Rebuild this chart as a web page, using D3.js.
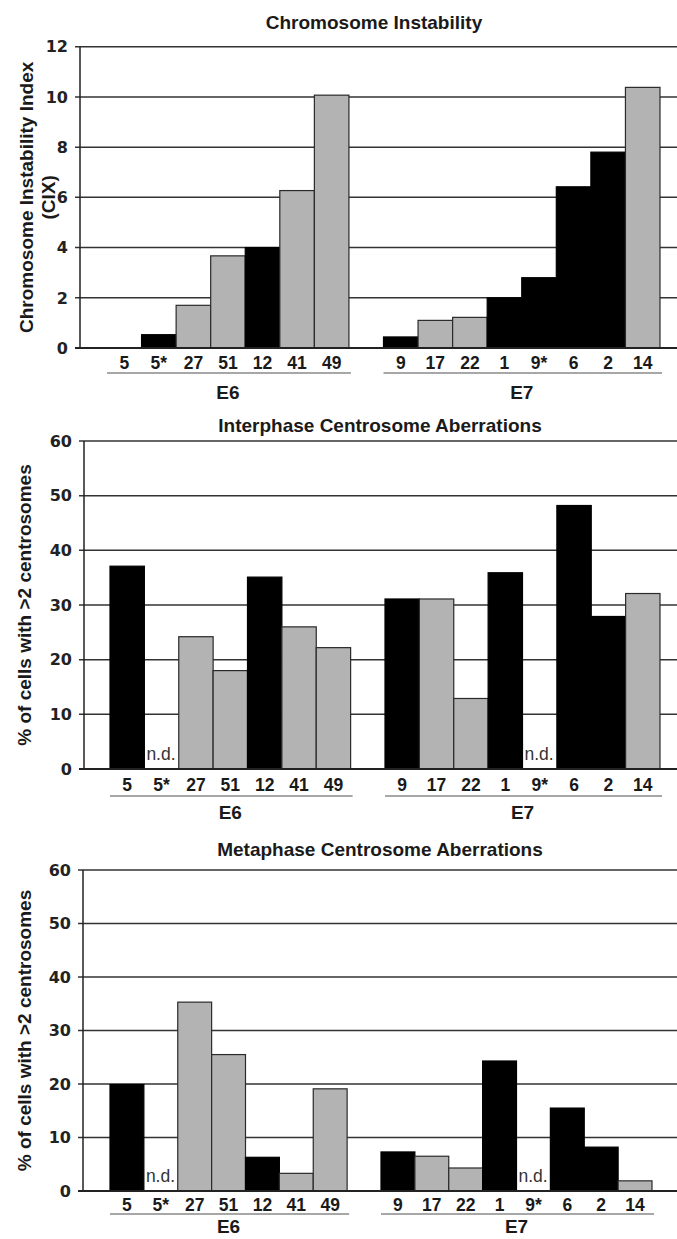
<!DOCTYPE html>
<html>
<head>
<meta charset="utf-8">
<script src="https://cdnjs.cloudflare.com/ajax/libs/d3/7.8.5/d3.min.js"></script>
<style>
  body { margin: 0; background: #fff; }
  svg { display: block; }
  text { font-family: "Liberation Sans", Arial, sans-serif; }
</style>
</head>
<body>
<script>
// cell lines, grouped by HPV oncogene
var groupNames = ["E6", "E7"];
var linesE6 = ["5", "5*", "27", "51", "12", "41", "49"];
var linesE7 = ["9", "17", "22", "1", "9*", "6", "2", "14"];

// bar shade per cell line (dark = black bar, light = grey bar)
var shadeE6 = ["dark", "dark", "light", "light", "dark", "light", "light"];
var shadeE7 = ["dark", "light", "light", "dark", "dark", "dark", "dark", "light"];

// chromosome instability index (CIX)
var cixE6 = [0, 0.53, 1.7, 3.67, 4.0, 6.27, 10.07];
var cixE7 = [0.44, 1.1, 1.22, 2.0, 2.8, 6.42, 7.8, 10.38];

// % of cells with >2 centrosomes, null = not determined
var interE6 = [37.1, null, 24.2, 18.0, 35.1, 26.0, 22.2];
var interE7 = [31.1, 31.1, 12.9, 35.9, null, 48.2, 27.9, 32.1];
var metaE6 = [19.9, null, 35.3, 25.5, 6.3, 3.3, 19.1];
var metaE7 = [7.3, 6.5, 4.3, 24.3, null, 15.5, 8.2, 1.9];

var cixTicks = [0, 2, 4, 6, 8, 10, 12];
var pctTicks = [0, 10, 20, 30, 40, 50, 60];

var W = 677, H = 1239;
var svg = d3.select("body").append("svg").attr("width", W).attr("height", H);

function rows(vE6, vE7) {
  var out = [];
  linesE6.forEach(function(c, i) { out.push({key: "E6-" + c, label: c, group: "E6", value: vE6[i], shade: shadeE6[i]}); });
  linesE7.forEach(function(c, i) { out.push({key: "E7-" + c, label: c, group: "E7", value: vE7[i], shade: shadeE7[i]}); });
  return out;
}

function panel(opt) {
  var data = rows(opt.e6, opt.e7);
  // one empty slot between the two groups
  var keys = data.slice(0, linesE6.length).map(function(d) { return d.key; })
    .concat(["gap"])
    .concat(data.slice(linesE6.length).map(function(d) { return d.key; }));

  var x = d3.scaleBand().domain(keys).range([opt.barLeft, opt.barRight]).padding(0);
  var y = d3.scaleLinear().domain([0, d3.max(opt.ticks)]).range([opt.zero, opt.top]);

  var g = svg.append("g");

  // gridlines
  g.selectAll("line.grid").data(opt.ticks).enter().append("line")
    .attr("x1", opt.axisX - 5).attr("x2", W)
    .attr("y1", function(d) { return y(d); }).attr("y2", function(d) { return y(d); })
    .attr("stroke", "#333").attr("stroke-width", 1.5);

  // vertical axis
  g.append("line")
    .attr("x1", opt.axisX).attr("x2", opt.axisX)
    .attr("y1", y(d3.max(opt.ticks))).attr("y2", y(0))
    .attr("stroke", "#222").attr("stroke-width", 1.5);

  // tick labels
  g.selectAll("text.tick").data(opt.ticks).enter().append("text")
    .attr("x", opt.axisX - 12).attr("y", function(d) { return y(d); })
    .attr("dy", "0.36em").attr("text-anchor", "end")
    .style("font-family", "DejaVu Sans, Verdana, sans-serif").style("font-size", "16px")
    .style("font-weight", "bold").attr("fill", "#222")
    .text(function(d) { return d; });

  // bars
  g.selectAll("rect.bar").data(data.filter(function(d) { return d.value != null && d.value > 0; }))
    .enter().append("rect")
    .attr("x", function(d) { return x(d.key); })
    .attr("width", x.bandwidth())
    .attr("y", function(d) { return y(d.value); })
    .attr("height", function(d) { return y(0) - y(d.value); })
    .attr("fill", function(d) { return d.shade === "dark" ? "#000" : "#b3b3b3"; })
    .attr("stroke", function(d) { return d.shade === "dark" ? "#000" : "#2a2a2a"; })
    .attr("stroke-width", 1.2);

  // zero line on top
  g.append("line")
    .attr("x1", opt.axisX - 5).attr("x2", W)
    .attr("y1", y(0)).attr("y2", y(0))
    .attr("stroke", "#222").attr("stroke-width", 1.8);

  // n.d. markers
  g.selectAll("text.nd").data(data.filter(function(d) { return d.value == null; }))
    .enter().append("text")
    .attr("x", function(d) { return x(d.key) + 2; })
    .attr("y", y(0) - 9)
    .style("font-size", "17.5px").attr("fill", "#333")
    .text("n.d.");

  // category labels
  g.selectAll("text.cat").data(data).enter().append("text")
    .attr("x", function(d) { return x(d.key) + x.bandwidth() / 2; })
    .attr("y", y(0) + opt.labelOff)
    .attr("text-anchor", "middle")
    .style("font-size", "17.5px").style("font-weight", "bold").attr("fill", "#1a1a1a")
    .text(function(d) { return d.label; });

  // group underline + name
  groupNames.forEach(function(gn) {
    var members = data.filter(function(d) { return d.group === gn; });
    var x0 = x(members[0].key), x1 = x(members[members.length - 1].key) + x.bandwidth();
    g.append("line")
      .attr("x1", x0).attr("x2", x1 + 2)
      .attr("y1", y(0) + opt.lineOff).attr("y2", y(0) + opt.lineOff)
      .attr("stroke", "#8a8a8a").attr("stroke-width", 1.5);
    g.append("text")
      .attr("x", (x0 + x1) / 2).attr("y", y(0) + opt.groupOff)
      .attr("text-anchor", "middle")
      .style("font-size", "19px").style("font-weight", "bold").attr("fill", "#1a1a1a")
      .text(gn);
  });

  // title
  g.append("text")
    .attr("x", opt.titleX).attr("y", opt.titleY)
    .attr("text-anchor", "middle")
    .style("font-size", "19px").style("font-weight", "bold").attr("fill", "#1a1a1a")
    .text(opt.title);

  // y axis title (one or two lines)
  var cy = (y(0) + y(d3.max(opt.ticks))) / 2;
  opt.yTitle.forEach(function(line, i) {
    g.append("text")
      .attr("transform", "translate(" + opt.yTitleX[i] + "," + cy + ") rotate(-90)")
      .attr("dy", "0.35em").attr("text-anchor", "middle")
      .style("font-size", "19px").style("font-weight", "bold").attr("fill", "#1a1a1a")
      .text(line);
  });
}

panel({
  title: "Chromosome Instability", titleX: 374, titleY: 29,
  yTitle: ["Chromosome Instability Index", "(CIX)"], yTitleX: [26, 48],
  e6: cixE6, e7: cixE7, ticks: cixTicks,
  top: 46.7, zero: 348, axisX: 80, barLeft: 107, barRight: 660,
  labelOff: 21, lineOff: 25, groupOff: 51
});

panel({
  title: "Interphase Centrosome Aberrations", titleX: 380, titleY: 432,
  yTitle: ["% of cells with >2 centrosomes"], yTitleX: [24],
  e6: interE6, e7: interE7, ticks: pctTicks,
  top: 441, zero: 769, axisX: 84, barLeft: 110, barRight: 660,
  labelOff: 22, lineOff: 27, groupOff: 50
});

panel({
  title: "Metaphase Centrosome Aberrations", titleX: 380, titleY: 856,
  yTitle: ["% of cells with >2 centrosomes"], yTitleX: [24],
  e6: metaE6, e7: metaE7, ticks: pctTicks,
  top: 870, zero: 1191, axisX: 83, barLeft: 110, barRight: 652,
  labelOff: 20, lineOff: 23, groupOff: 42
});
</script>
</body>
</html>
